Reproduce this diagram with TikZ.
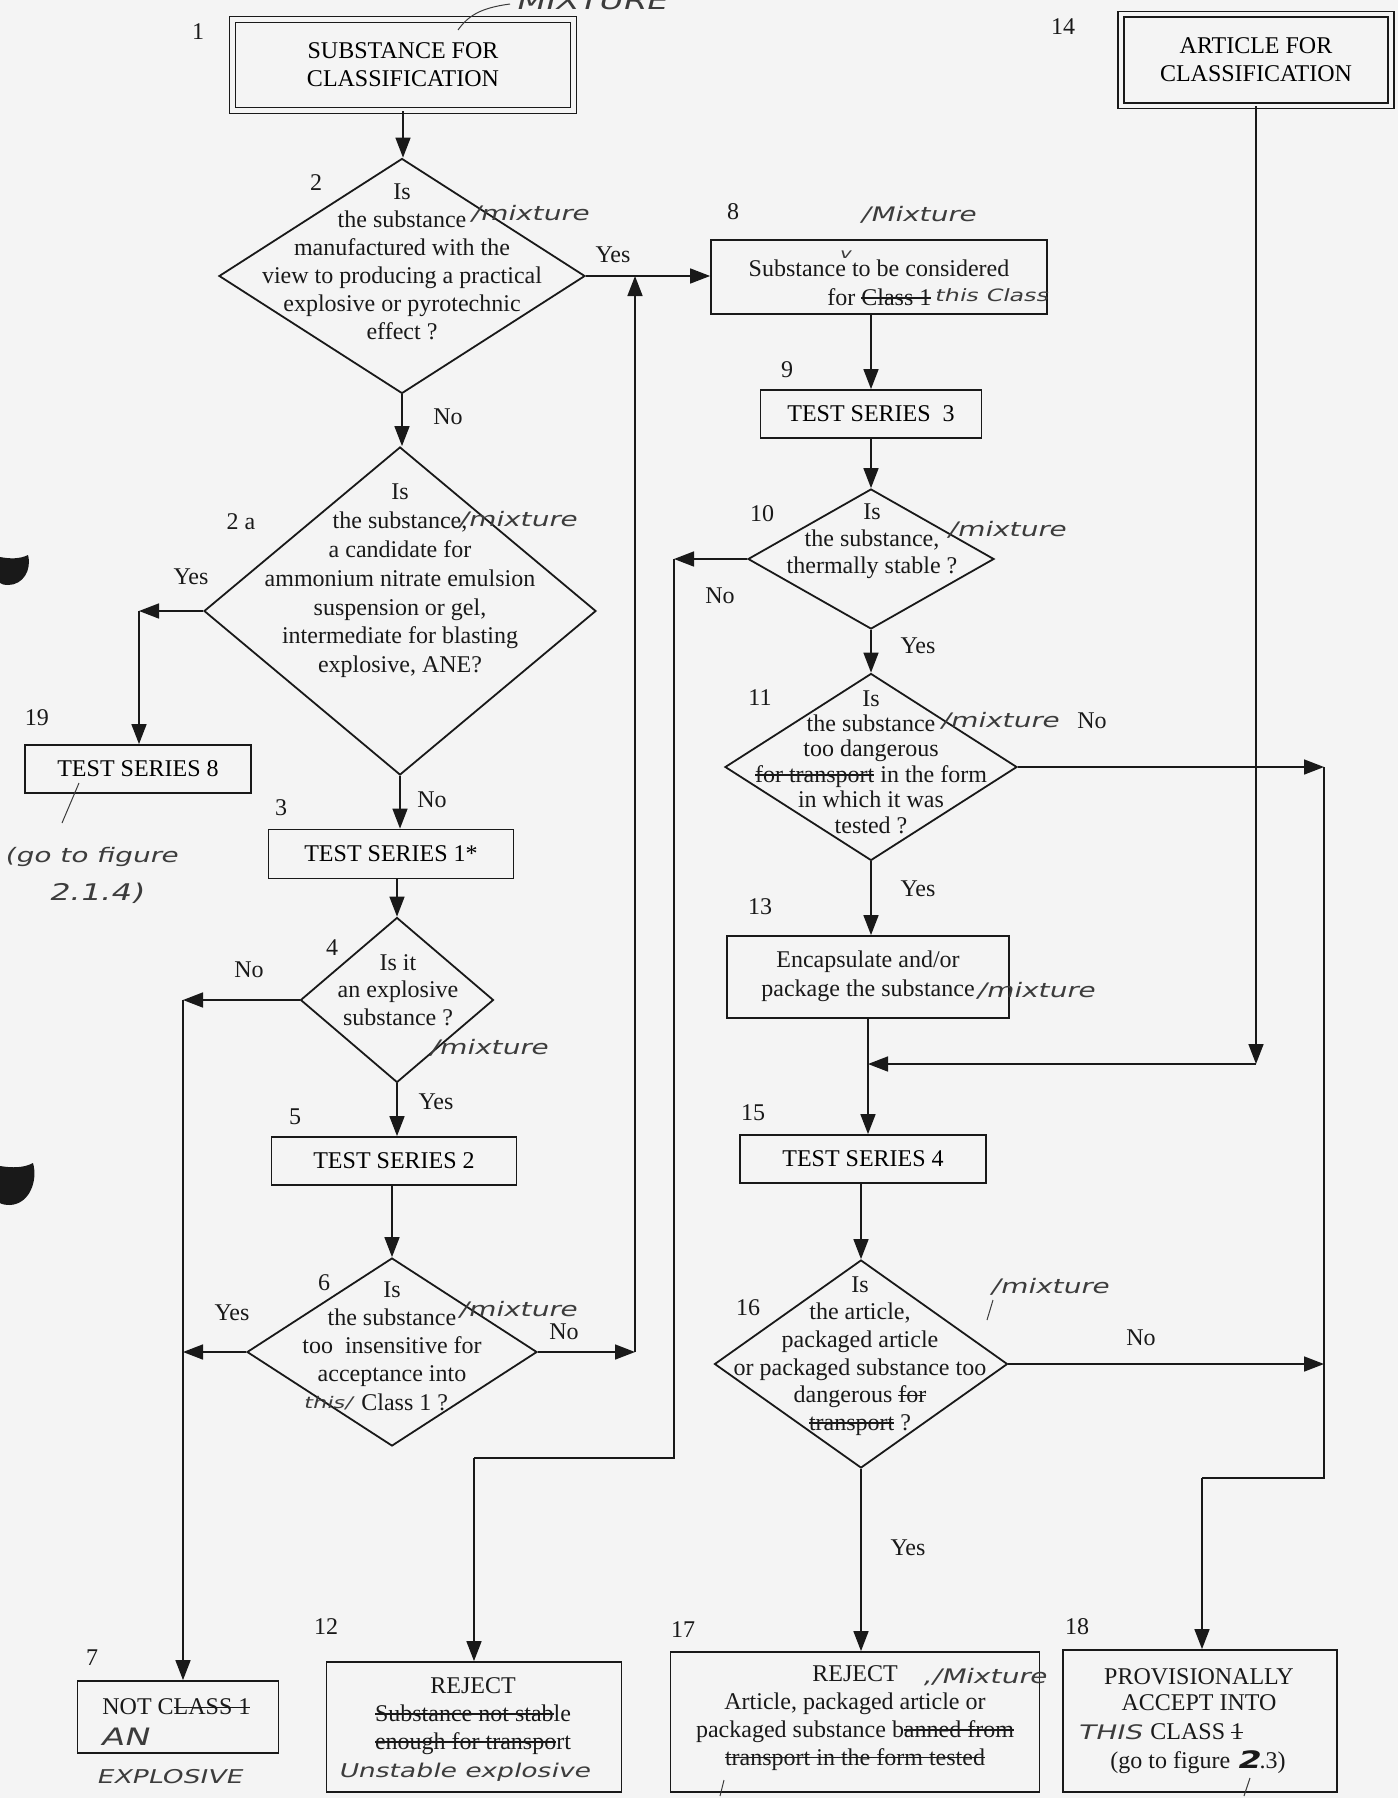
\documentclass[tikz,border=0pt]{standalone}
\usepackage{fontspec}
\setmainfont{Liberation Serif}
\newfontfamily\handfont{DejaVu Sans}[FakeStretch=1.4,FakeSlant=0.25]
\newsavebox\strkbox
\newcommand\mystrike[1]{\sbox\strkbox{#1}\rlap{\rule[0.28em]{\wd\strkbox}{0.7pt}}\usebox\strkbox}
\usetikzlibrary{arrows.meta,shapes.geometric}
\definecolor{paper}{RGB}{244,244,244}
\definecolor{ink}{RGB}{25,25,25}
\definecolor{pen}{RGB}{60,60,60}
\tikzset{
  box/.style={draw=ink, line width=0.9pt, inner sep=0pt, align=center},
  dbox/.style={draw=ink, line width=0.75pt, double=paper, double distance=2.2pt, inner sep=0pt, align=center},
  dia/.style={draw=ink, diamond, line width=0.9pt, inner sep=0pt},
  txt/.style={inner sep=0pt, align=center, text=ink},
  num/.style={inner sep=0pt, text=ink},
  yn/.style={inner sep=0pt, text=ink},
  hand/.style={inner sep=0pt, text=pen, font=\handfont\fontsize{10}{12}\selectfont},
  arr/.style={draw=ink, line width=0.8pt, -{Triangle[length=10pt,width=7.5pt]}},
  ln/.style={draw=ink, line width=0.8pt},
  hline/.style={draw=pen, line width=0.5pt},
}
\begin{document}
\begin{tikzpicture}[x=0.5pt,y=-0.5pt,font=\fontsize{12}{14}\selectfont]
\useasboundingbox (0,0) rectangle (1398,1798);
\fill[paper] (0,0) rectangle (1398,1798);

% hole punches
\fill[ink] (0,557) .. controls (10,559) and (20,559) .. (28,555) .. controls (32,570) and (23,585) .. (8,585) .. controls (4,585) and (1,584) .. (0,583) -- cycle;
\fill[ink] (0,1166) .. controls (12,1168) and (24,1168) .. (33,1163) .. controls (38,1180) and (30,1204) .. (10,1205) .. controls (5,1205) and (1,1204) .. (0,1203) -- cycle;

% ---------- left column ----------
\node[dbox, minimum width=170.5pt, minimum height=45.5pt] (b1) at (403,65) {SUBSTANCE FOR\\CLASSIFICATION};
\node[num] (n1) at (198,32) {1};
\node[hand, anchor=base west, font=\handfont\fontsize{12}{14}\selectfont] (hmix) at (515,10) {MIXTURE};
\draw[hline] (458,30) .. controls (468,16) and (480,8) .. (510,4);

\node[dia, minimum width=183pt, minimum height=117.5pt] (d2) at (402,276) {};
\node[txt] (t2) at (402,262) {Is\\the substance\\manufactured with the\\view to producing a practical\\explosive or pyrotechnic\\effect ?};
\node[hand, anchor=west] (h2) at (470,214) {/mixture};
\node[num] (n2) at (316,183) {2};

\node[dia, minimum width=196pt, minimum height=164pt] (d2a) at (400,611) {};
\node[txt, font=\fontsize{12}{14.4}\selectfont] (t2a) at (400,581) {Is\\the substance,\\a candidate for\\ammonium nitrate emulsion\\suspension or gel,\\intermediate for blasting\\explosive, ANE?};
\node[hand, anchor=west] (h2a) at (458,520) {/mixture};
\node[num] (n2a) at (241,522) {2 a};

\node[box, minimum width=113pt, minimum height=24pt] (b19) at (138,769) {TEST SERIES 8};
\node[num] (n19) at (37,718) {19};
\draw[hline] (79,783) -- (62,823);
\node[hand, anchor=west, font=\handfont\fontsize{10}{12}\selectfont] (h19a) at (4,857) {(go to figure};
\node[hand, anchor=west, font=\handfont\fontsize{11.5}{13}\selectfont] (h19b) at (48,893) {2.1.4)};

\node[box, minimum width=122.5pt, minimum height=24.5pt] (b3) at (391,854) {TEST SERIES 1*};
\node[num] (n3) at (281,808) {3};

\node[dia, minimum width=96.5pt, minimum height=82.5pt] (d4) at (397,1000) {};
\node[txt, font=\fontsize{12}{13.75}\selectfont] (t4) at (398,990) {Is it\\an explosive\\substance ?};
\node[hand, anchor=west] (h4) at (429,1048) {/mixture};
\node[num] (n4) at (332,948) {4};

\node[box, minimum width=122.5pt, minimum height=24pt] (b5) at (394,1161) {TEST SERIES 2};
\node[num] (n5) at (295,1117) {5};

\node[dia, minimum width=145pt, minimum height=94pt] (d6) at (392,1352) {};
\node[txt, font=\fontsize{12}{14.1}\selectfont] (t6) at (392,1346) {Is\\the substance\\too\ \ insensitive for\\acceptance into\\\hphantom{thi}Class 1 ?};
\node[hand, anchor=west] (h6) at (458,1310) {/mixture};
\node[hand, anchor=west, font=\handfont\fontsize{8}{10}\selectfont] (h6b) at (303,1403) {this/};
\node[num] (n6) at (324,1283) {6};

\node[box, minimum width=100.5pt, minimum height=36pt] (b7) at (178,1717) {};
\node[txt, anchor=west] (t7) at (102,1707) {NOT C\mystrike{LASS 1}};
\node[hand, anchor=west, font=\handfont\fontsize{12}{14}\selectfont] (h7a) at (100,1737) {AN};
\node[hand, font=\handfont\fontsize{9.5}{12}\selectfont] (h7b) at (169,1777) {EXPLOSIVE};
\node[num] (n7) at (92,1658) {7};

\node[box, minimum width=147.5pt, minimum height=65pt] (b12) at (474,1727) {};
\node[txt] (t12) at (473,1716) {REJECT\\\mystrike{Substance not stab}le\\\mystrike{enough for transpo}rt};
\node[hand, font=\handfont\fontsize{9.5}{12}\selectfont] (h12) at (464,1772) {Unstable explosive};
\node[num] (n12) at (326,1627) {12};

% ---------- middle column ----------
\node[box, minimum width=168pt, minimum height=37pt] (b8) at (879,277) {};
\node[txt] (t8a) at (879,268) {Substance to be considered};
\node[txt, anchor=west] (t8b) at (827,297) {for \mystrike{Class 1}};
\node[hand, anchor=west, font=\handfont\fontsize{8.5}{10}\selectfont] (h8b) at (934,295) {this Class};
\node[hand, font=\handfont\fontsize{7}{8}\selectfont] (h8c) at (845,255) {v};
\node[hand, anchor=west] (h8a) at (860,215) {/Mixture};
\node[num] (n8) at (733,212) {8};

\node[box, minimum width=110.5pt, minimum height=24pt] (b9) at (871,414) {TEST SERIES\ \ 3};
\node[num] (n9) at (787,370) {9};

\node[dia, minimum width=123pt, minimum height=70pt] (d10) at (871,559) {};
\node[txt, font=\fontsize{12}{13.5}\selectfont] (t10) at (872,541) {Is\\the substance,\\thermally stable ?};
\node[hand, anchor=west] (h10) at (947,530) {/mixture};
\node[num] (n10) at (762,514) {10};

\node[dia, minimum width=146pt, minimum height=93.5pt] (d11) at (871,767) {};
\node[txt, font=\fontsize{12}{12.7}\selectfont] (t11) at (871,762) {Is\\the substance\\too dangerous\\\mystrike{for transport} in the form\\in which it was\\tested ?};
\node[hand, anchor=west] (h11) at (940,721) {/mixture};
\node[num] (n11) at (760,698) {11};

\node[box, minimum width=141pt, minimum height=41pt] (b13) at (868,977) {};
\node[txt, font=\fontsize{12}{14.5}\selectfont] (t13) at (868,976) {Encapsulate and/or\\package the substance};
\node[hand, anchor=west] (h13) at (976,991) {/mixture};
\node[num] (n13) at (760,907) {13};

\node[box, minimum width=123pt, minimum height=24pt] (b15) at (863,1159) {TEST SERIES 4};
\node[num] (n15) at (753,1113) {15};

\node[dia, minimum width=146.5pt, minimum height=104pt] (d16) at (861,1364) {};
\node[txt, font=\fontsize{12}{13.8}\selectfont] (t16) at (860,1356) {Is\\the article,\\packaged article\\or packaged substance too\\dangerous \mystrike{for}\\\mystrike{transport} ?};
\node[hand, anchor=west] (h16) at (990,1287) {/mixture};
\draw[hline] (993,1300) -- (987,1320);
\node[num] (n16) at (748,1308) {16};

\node[box, minimum width=184.5pt, minimum height=70pt] (b17) at (855,1722) {};
\node[txt, font=\fontsize{12}{13.9}\selectfont] (t17) at (855,1718) {REJECT\\Article, packaged article or\\packaged substance b\mystrike{anned from}\\\mystrike{transport in the form tested}};
\node[hand, anchor=west] (h17) at (922,1677) {,/Mixture};
\draw[hline] (724,1780) -- (720,1796);
\node[num] (n17) at (683,1630) {17};

% ---------- right column ----------
\node[dbox, minimum width=135pt, minimum height=45.75pt] (b14) at (1256,60) {ARTICLE FOR\\CLASSIFICATION};
\node[num] (n14) at (1063,27) {14};

\node[box, minimum width=137pt, minimum height=71pt] (b18) at (1200,1721) {};
\node[txt, font=\fontsize{12}{13}\selectfont] (t18a) at (1199,1690) {PROVISIONALLY\\ACCEPT INTO};
\node[hand, anchor=west] (h18a) at (1077,1732) {THIS};
\node[txt, anchor=west] (t18b) at (1150,1732) {CLASS \mystrike{1}};
\node[txt] (t18c) at (1198,1762) {(go to figure {\handfont\bfseries 2}.3)};
\draw[hline] (1250,1778) -- (1244,1796);
\node[num] (n18) at (1077,1627) {18};

% ---------- yes / no labels ----------
\node[yn] (y2) at (613,255) {Yes};
\node[yn] (no2) at (448,417) {No};
\node[yn] (y2a) at (191,577) {Yes};
\node[yn] (no2a) at (432,800) {No};
\node[yn] (no4) at (249,970) {No};
\node[yn] (y4) at (436,1102) {Yes};
\node[yn] (y6) at (232,1313) {Yes};
\node[yn] (no6) at (564,1332) {No};
\node[yn] (no10) at (720,596) {No};
\node[yn] (y10) at (918,646) {Yes};
\node[yn] (no11) at (1092,721) {No};
\node[yn] (y11) at (918,889) {Yes};
\node[yn] (no16) at (1141,1338) {No};
\node[yn] (y16) at (908,1548) {Yes};

% ---------- connector coordinates ----------
\coordinate (y1) at (139,611);
\coordinate (k1) at (183,1000);
\coordinate (k2) at (183,1352);
\coordinate (u1) at (635,1352);
\coordinate (l1) at (674,559);
\coordinate (l2) at (674,1458);
\coordinate (l3) at (474,1458);
\coordinate (m1) at (1256,1064);
\coordinate (r1) at (1324,767);
\coordinate (r2) at (1324,1364);
\coordinate (r3) at (1324,1478);
\coordinate (r4) at (1202,1478);

% ---------- connectors ----------
\draw[arr] (b1.south) -- (b1.south |- d2.north);
\draw[arr] (d2.east) -- (d2.east -| b8.west);
\draw[arr] (d2.south) -- (d2.south |- d2a.north);
\draw[arr] (d2a.west) -- (y1);
\draw[arr] (y1) -- (y1 |- b19.north);
\draw[arr] (d2a.south) -- (d2a.south |- b3.north);
\draw[arr] (d4.north |- b3.south) -- (d4.north);
\draw[arr] (d4.west) -- (k1);
\draw[arr] (k1) -- (k1 |- b7.north);
\draw[arr] (d4.south) -- (d4.south |- b5.north);
\draw[arr] (d6.north |- b5.south) -- (d6.north);
\draw[arr] (d6.west) -- (k2);
\draw[arr] (d6.east) -- (u1);
\draw[arr] (u1) -- (u1 |- d2.east);

\draw[arr] (b9.north |- b8.south) -- (b9.north);
\draw[arr] (b9.south) -- (d10.north);
\draw[arr] (d10.west) -- (l1);
\draw[ln] (l1) -- (l2) -- (l3);
\draw[arr] (l3) -- (l3 |- b12.north);
\draw[arr] (d10.south) -- (d11.north);
\draw[arr] (d11.south) -- (d11.south |- b13.north);
\draw[arr] (d11.east) -- (r1);
\draw[arr] (b13.south) -- (b13.south |- b15.north);
\draw[arr] (b14.south) -- (m1);
\draw[arr] (m1) -- (m1 -| b13.south);
\draw[arr] (d16.north |- b15.south) -- (d16.north);
\draw[arr] (d16.east) -- (r2);
\draw[ln] (r1) -- (r3) -- (r4);
\draw[arr] (r4) -- (r4 |- b18.north);
\draw[arr] (d16.south) -- (d16.south |- b17.north);
\end{tikzpicture}
\end{document}
